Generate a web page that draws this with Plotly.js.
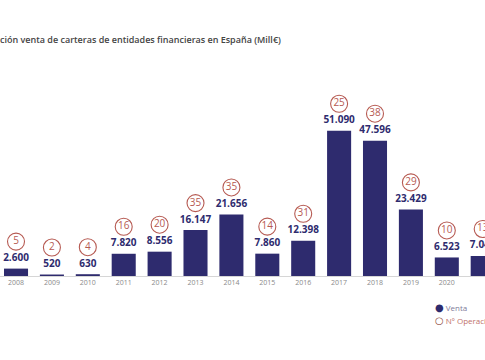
<!DOCTYPE html>
<html>
<head>
<meta charset="utf-8">
<script src="https://cdn.plot.ly/plotly-3.0.1.min.js"></script>
<style>html,body{margin:0;padding:0;background:#fff;}#chart{width:485px;height:360px;}</style>
</head>
<body>
<div id="chart"></div>
<script>
const years = [2008, 2009, 2010, 2011, 2012, 2013, 2014, 2015, 2016, 2017, 2018, 2019, 2020, 2021];
const venta = [2600, 520, 630, 7820, 8556, 16147, 21656, 7860, 12398, 51090, 47596, 23429, 6523, 7040];
const operaciones = [5, 2, 4, 16, 20, 35, 35, 14, 31, 25, 38, 29, 10, 13];
const titleText = "ción venta de carteras de entidades financieras en España (Mill€)";
const legendVenta = "Venta";
const legendOps = "Nº Operaciones";

const W = 485, H = 360;
const mT = 50, mB = 84;
const plotH = H - mT - mB;
const yMax = 79500;
const upp = yMax / plotH; // data units per pixel

const navy = '#2e2b6e';
const red = '#b65a52';
const font = 'Open Sans, Arial, sans-serif';

function fmt(v) {
  return v.toString().replace(/\B(?=(\d{3})+(?!\d))/g, '.');
}

const traces = [
  {
    type: 'bar', x: years, y: venta, width: 0.67, name: legendVenta,
    marker: {color: navy}, showlegend: false, hoverinfo: 'skip'
  },
  {
    type: 'scatter', mode: 'text', x: years,
    y: venta.map(v => v + 10 * upp),
    text: venta.map(fmt),
    textfont: {family: font, size: 10, color: navy, weight: 700},
    showlegend: false, hoverinfo: 'skip', cliponaxis: true
  },
  {
    type: 'scatter', mode: 'markers+text', x: years, name: legendOps,
    y: venta.map(v => v + 27 * upp),
    text: operaciones.map(String),
    textposition: 'middle center',
    textfont: {family: font, size: 10, color: red},
    marker: {symbol: 'circle-open', size: 17, color: red, line: {width: 1.1, color: red}},
    showlegend: false, hoverinfo: 'skip', cliponaxis: true
  }
];

function legendY(px) { return 1 - (px - mT) / plotH; }

const layout = {
  width: W, height: H,
  margin: {l: 0, r: 0, t: mT, b: mB, autoexpand: false},
  paper_bgcolor: '#fff', plot_bgcolor: '#fff',
  font: {family: font},
  title: {
    text: titleText, x: 0, xref: 'container', xanchor: 'left',
    y: 1 - 40 / H, yref: 'container', yanchor: 'middle',
    pad: {l: 0, t: 0, b: 0, r: 0},
    font: {family: font, size: 9, color: '#444', weight: 600}
  },
  xaxis: {
    range: [2007.554, 2021.064], tickmode: 'array', tickvals: years,
    ticktext: years.map(String), showgrid: false, zeroline: false,
    showline: true, linecolor: '#d6d6d6', linewidth: 1,
    ticks: '', tickfont: {family: font, size: 7, color: '#8a8a8a'},
    fixedrange: true
  },
  yaxis: {range: [0, yMax], visible: false, fixedrange: true},
  showlegend: false,
  annotations: [
    {
      xref: 'paper', yref: 'paper', x: 433 / W, y: legendY(307),
      xanchor: 'left', yanchor: 'middle', showarrow: false,
      text: '<span style="color:' + navy + ';font-family:DejaVu Sans;font-size:10px">●</span> ' + legendVenta,
      font: {family: font, size: 8, color: '#7f7d9a'}
    },
    {
      xref: 'paper', yref: 'paper', x: 433 / W, y: legendY(320),
      xanchor: 'left', yanchor: 'middle', showarrow: false,
      text: '<span style="color:#8e4a40;font-family:DejaVu Sans;font-size:10px;font-weight:bold">○</span> ' + legendOps,
      font: {family: font, size: 8, color: '#c0726a'}
    }
  ]
};

Plotly.newPlot('chart', traces, layout, {displayModeBar: false, staticPlot: true});
</script>
</body>
</html>
